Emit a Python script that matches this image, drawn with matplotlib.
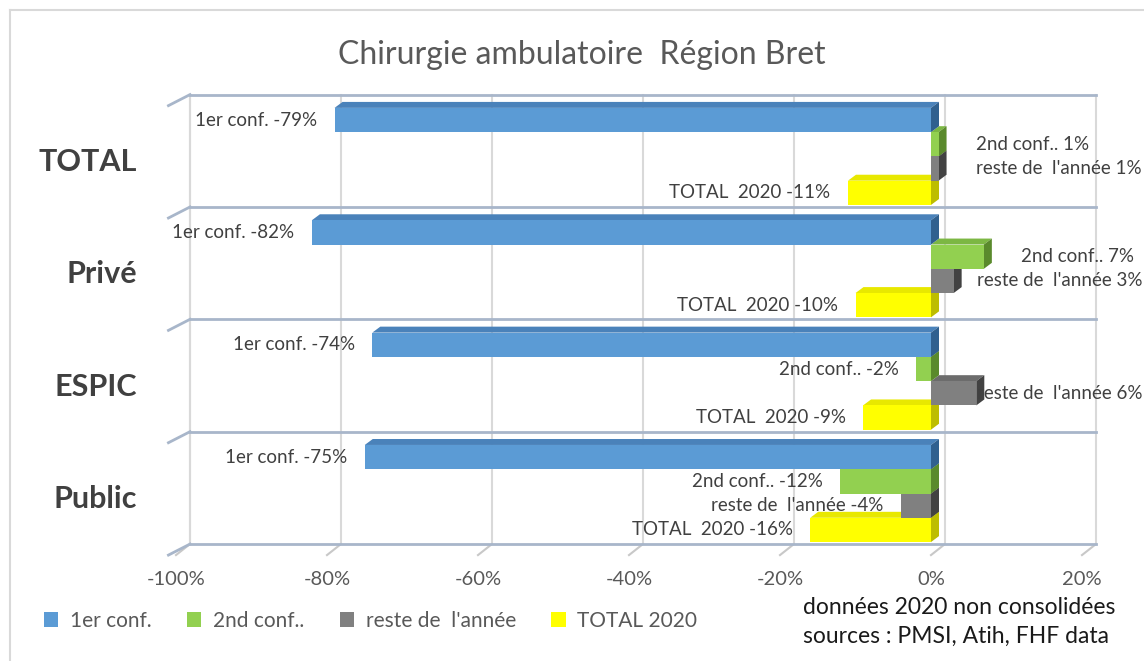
import matplotlib.pyplot as plt
from matplotlib.patches import Polygon, Rectangle, Patch
from matplotlib.lines import Line2D

plt.rcParams['font.family'] = ['Lato', 'DejaVu Sans']

# data (%)
categories = ["TOTAL", "Privé", "ESPIC", "Public"]
series_names = ["1er conf.", "2nd conf..", "reste de  l'année", "TOTAL 2020"]
label_names = ["1er conf.", "2nd conf..", "reste de  l'année", "TOTAL  2020"]
first_conf = [-79, -82, -74, -75]
second_conf = [1, 7, -2, -12]
rest_year = [1, 3, 6, -4]
total_2020 = [-11, -10, -9, -16]
tick_values = [-100, -80, -60, -40, -20, 0, 20]
tick_labels = ["-100%", "-80%", "-60%", "-40%", "-20%", "0%", "20%"]

# front, top, side colours for each series
face_colors = [
    ("#5B9BD5", "#4A82BA", "#30608F"),
    ("#92D050", "#7CB743", "#5A8A2C"),
    ("#808080", "#6C6C6C", "#424242"),
    ("#FFFF00", "#E8E800", "#BDBD00"),
]
legend_colors = ["#5B9BD5", "#92D050", "#808080", "#FFFF00"]

W, H = 1144, 661
fig = plt.figure(figsize=(W / 100, H / 100), dpi=100)
ax = fig.add_axes([176 / W, (H - 555.3) / H, 906 / W, (555.3 - 89) / H])
ax.set_xlim(-100, 20)
ax.set_ylim(-0.55, 3.6)
for s in ax.spines.values():
    s.set_visible(False)
ax.set_yticks([])
ax.set_xticks(tick_values, tick_labels)
ax.tick_params(axis='x', length=0, pad=11, labelsize=14.5, labelcolor="#595959")

# depth offsets (data units): walls and bars
wall_dx, wall_dy = 1.85, 0.098
bar_dx, bar_dy = 1.06, 0.053

ypos = [3, 2, 1, 0]
bar_h = 0.216
floor = -0.45
dividers = [y + 0.55 for y in ypos] + [floor]

# back wall grid
wall_grid = "#D9D9D9"
wall_edge = "#A8B6CA"
for t in tick_values:
    ax.plot([t + wall_dx, t + wall_dx], [floor, dividers[0]], color=wall_grid,
            lw=1.5, zorder=1, clip_on=False)
    ax.plot([t, t + wall_dx], [floor - wall_dy, floor], color="#C8C8C8",
            lw=1.5, zorder=1, clip_on=False)
ax.plot([-100 + wall_dx] * 2, [floor, dividers[0]], color=wall_grid, lw=1.5,
        zorder=1, clip_on=False)
for d in dividers:
    ax.plot([-100 + wall_dx, 20 + wall_dx], [d, d], color=wall_edge, lw=2,
            zorder=1.5, clip_on=False)
    ax.plot([-100 - 1.0, -100 + wall_dx], [d - wall_dy, d], color=wall_edge,
            lw=2, zorder=1.5, clip_on=False)

# 3d bars
all_series = [first_conf, second_conf, rest_year, total_2020]
label_texts = []
for k in [3, 2, 1, 0]:
    front, top, side = face_colors[k]
    for i, y in enumerate(ypos):
        v = all_series[k][i]
        y1 = y + 2 * bar_h - bar_h * k
        y0 = y1 - bar_h
        xl, xr = min(0, v), max(0, v)
        z = 3 + (3 - k)
        ax.add_patch(Polygon([(xl, y1), (xr, y1), (xr + bar_dx, y1 + bar_dy),
                              (xl + bar_dx, y1 + bar_dy)], closed=True,
                             facecolor=top, edgecolor='none', zorder=z))
        ax.add_patch(Polygon([(xr, y0), (xr, y1), (xr + bar_dx, y1 + bar_dy),
                              (xr + bar_dx, y0 + bar_dy)], closed=True,
                             facecolor=side, edgecolor='none', zorder=z))
        ax.add_patch(Rectangle((xl, y0), xr - xl, bar_h, facecolor=front,
                               edgecolor='none', zorder=z))
        txt = f"{label_names[k]} {v}%"
        yc = (y0 + y1) / 2
        if v < 0:
            t = ax.text(v - 2.3, yc, txt, ha='right', va='center', fontsize=13.5,
                        color="#404040", zorder=10, clip_on=False)
        else:
            t = ax.text(v + 4.9, yc, txt, ha='left', va='center', fontsize=13.5,
                        color="#404040", zorder=10, clip_on=False)
            label_texts.append(t)

# category labels
for name, y in zip(categories, ypos):
    ax.text(-105.2, y - 0.05, name, ha='right', va='center', fontsize=22,
            weight='bold', color="#404040", clip_on=False)

# keep right-side labels inside the chart area, like Excel does
fig.canvas.draw()
renderer = fig.canvas.get_renderer()
for t in label_texts:
    bb = t.get_window_extent(renderer)
    if bb.x1 > W - 2:
        xd = ax.transData.inverted().transform((W - 2, 0))[0]
        t.set_x(xd)
        t.set_ha('right')

fig.text(582 / W, 1 - 55 / H, "Chirurgie ambulatoire  Région Bret", ha='center',
         va='center', fontsize=23, color="#595959")

handles = [Patch(facecolor=c, edgecolor='none') for c in legend_colors]
fig.legend(handles, series_names, loc='center left',
           bbox_to_anchor=(25 / W, 1 - 621 / H), ncol=4, frameon=False,
           fontsize=15, handlelength=0.7, handleheight=0.75, handletextpad=0.55,
           columnspacing=1.7, labelcolor="#595959")

fig.text(803 / W, 1 - 608 / H, "données 2020 non consolidées", ha='left',
         va='center', fontsize=16.5, color="#1A1A1A")
fig.text(803 / W, 1 - 636 / H, "sources : PMSI, Atih, FHF data", ha='left',
         va='center', fontsize=16.5, color="#1A1A1A")

# outer chart border (left and top edges are visible)
fig.add_artist(Line2D([10 / W, 10 / W], [0, 1 - 10 / H], color="#D9D9D9",
                      lw=1.5, transform=fig.transFigure))
fig.add_artist(Line2D([10 / W, 1], [1 - 10 / H, 1 - 10 / H], color="#D9D9D9",
                      lw=1.5, transform=fig.transFigure))

fig.savefig("out.png", dpi=100)
